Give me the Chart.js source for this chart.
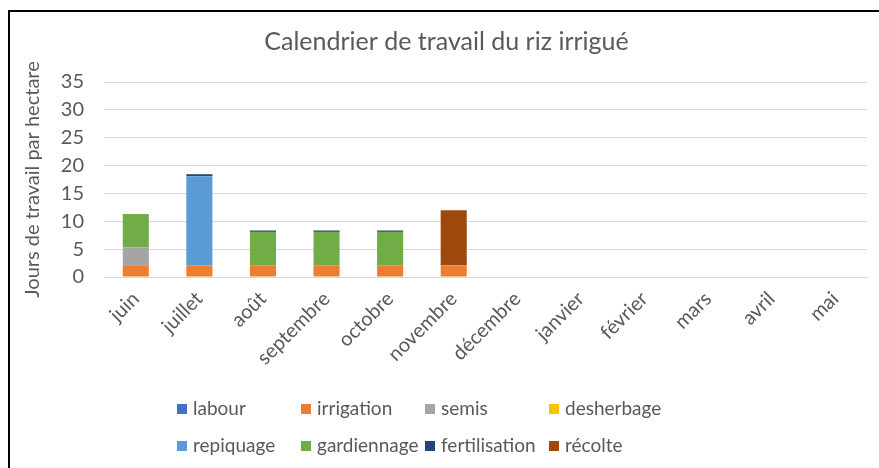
<!DOCTYPE html>
<html>
<head>
<meta charset="utf-8">
<script src="https://cdn.jsdelivr.net/npm/chart.js@4"></script>
<style>
  html, body { margin: 0; padding: 0; background: #fff; }
  body { width: 879px; height: 468px; overflow: hidden; position: relative; }
  #frame { position: absolute; left: 8px; top: 10px; width: 900px; height: 500px;
           border-left: 2px solid #000; border-top: 2px solid #000; }
  #wrap { position: absolute; left: 0; top: 0; width: 879px; height: 468px; }
</style>
</head>
<body>
<div id="frame"></div>
<div id="wrap"><canvas id="chart"></canvas></div>
<script>
const months = ["juin", "juillet", "août", "septembre", "octobre", "novembre",
  "décembre", "janvier", "février", "mars", "avril", "mai"];

const labour        = [0, 0, 0, 0, 0, 0, 0, 0, 0, 0, 0, 0];
const irrigation    = [2.1, 2.1, 2.1, 2.1, 2.1, 2.1, 0, 0, 0, 0, 0, 0];
const semis         = [3.2, 0, 0, 0, 0, 0, 0, 0, 0, 0, 0, 0];
const desherbage    = [0, 0, 0, 0, 0, 0, 0, 0, 0, 0, 0, 0];
const repiquage     = [0, 16, 0, 0, 0, 0, 0, 0, 0, 0, 0, 0];
const gardiennage   = [6, 0, 6, 6, 6, 0, 0, 0, 0, 0, 0, 0];
const fertilisation = [0, 0.35, 0.25, 0.25, 0.25, 0, 0, 0, 0, 0, 0, 0];
const recolte       = [0, 0, 0, 0, 0, 9.9, 0, 0, 0, 0, 0, 0];

const yTicks = [0, 5, 10, 15, 20, 25, 30, 35];

const FONT = "Lato, 'Open Sans', sans-serif";
const TEXT = "#595959";

function ds(label, data, color) {
  return { label: label, data: data, backgroundColor: color, borderWidth: 0,
           categoryPercentage: 1, barPercentage: 0.41 };
}

// legend drawn as a fixed 4 x 2 grid like the original
const gridLegend = {
  id: "gridLegend",
  afterDraw(chart) {
    const ctx = chart.ctx;
    const colX = [177, 301, 425, 549];
    const rowY = [409, 446];
    ctx.save();
    ctx.font = "19px " + FONT;
    ctx.textBaseline = "middle";
    ctx.textAlign = "left";
    chart.data.datasets.forEach(function (d, i) {
      const x = colX[i % 4];
      const y = rowY[Math.floor(i / 4)];
      ctx.fillStyle = d.backgroundColor;
      ctx.fillRect(x, y - 5, 10, 10);
      ctx.fillStyle = TEXT;
      ctx.fillText(d.label, x + 16, y);
    });
    ctx.restore();
  },
};

new Chart(document.getElementById("chart"), {
  type: "bar",
  data: {
    labels: months,
    datasets: [
      ds("labour", labour, "#4472C4"),
      ds("irrigation", irrigation, "#ED7D31"),
      ds("semis", semis, "#A5A5A5"),
      ds("desherbage", desherbage, "#FFC000"),
      ds("repiquage", repiquage, "#5B9BD5"),
      ds("gardiennage", gardiennage, "#70AD47"),
      ds("fertilisation", fertilisation, "#264478"),
      ds("récolte", recolte, "#9E480E"),
    ],
  },
  options: {
    responsive: true,
    maintainAspectRatio: false,
    animation: false,
    layout: { padding: { left: 26, right: 12, top: 0, bottom: 0 } },
    plugins: {
      legend: { display: false },
      tooltip: { enabled: false },
      title: {
        display: true,
        text: "Calendrier de travail du riz irrigué",
        color: TEXT,
        font: { family: FONT, size: 25, weight: "normal" },
        padding: { top: 27, bottom: 25 },
      },
    },
    scales: {
      x: {
        stacked: true,
        grid: { display: false },
        border: { color: "#d9d9d9", width: 1 },
        ticks: {
          color: TEXT, font: { family: FONT, size: 20 },
          minRotation: 45, maxRotation: 45, padding: 2, autoSkip: false,
        },
        afterFit(scale) { scale.height = 191; },
      },
      y: {
        stacked: true,
        min: 0, max: 35,
        afterBuildTicks(scale) { scale.ticks = yTicks.map(function (v) { return { value: v }; }); },
        grid: { color: "#d9d9d9", lineWidth: 1, drawTicks: false },
        border: { display: false },
        ticks: { color: TEXT, font: { family: FONT, size: 20 }, padding: 20, autoSkip: false },
        title: {
          display: true,
          text: "Jours de travail par hectare",
          color: TEXT,
          font: { family: FONT, size: 20 },
          padding: { top: -5, bottom: 0 },
        },
        afterFit(scale) { scale.width = 78; },
      },
    },
  },
  plugins: [gridLegend],
});
</script>
</body>
</html>
